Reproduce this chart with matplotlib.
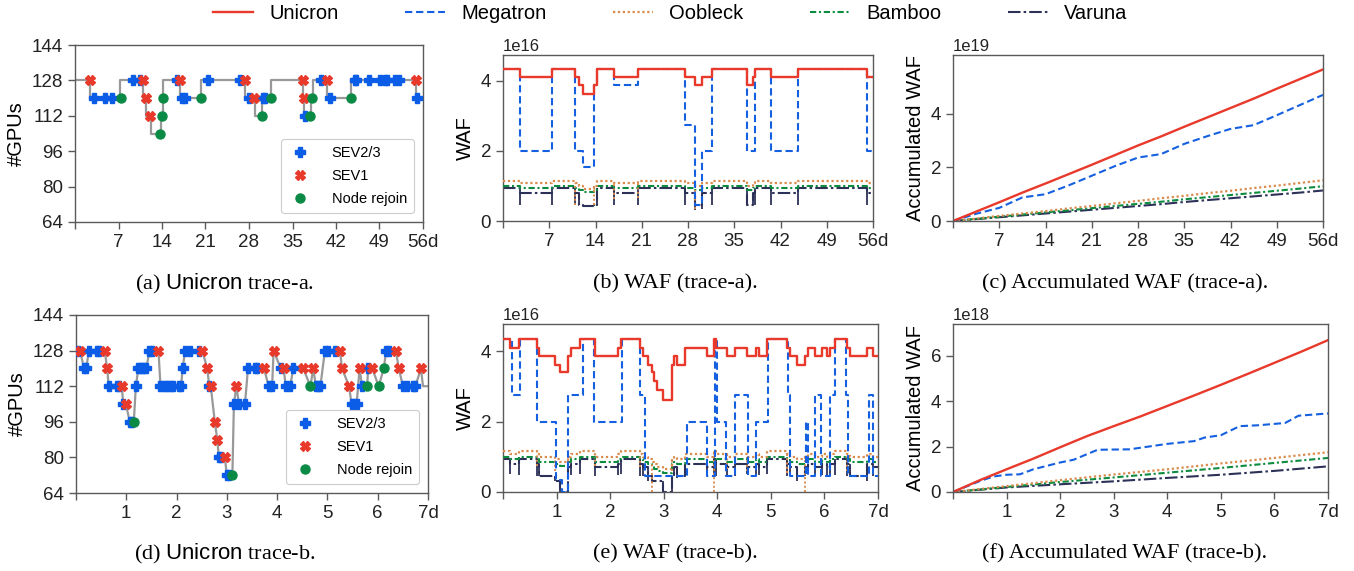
import matplotlib
matplotlib.use("Agg")
import matplotlib.pyplot as plt
import numpy as np

plt.rcParams['font.family'] = ['Liberation Sans', 'DejaVu Sans']
plt.rcParams['mathtext.fontset'] = 'custom'
plt.rcParams['mathtext.sf'] = 'Liberation Sans'

# ---------------- trace-a (56 days) ----------------
# grey GPU-count line (step, post)
a_line_t = [0, 2.41, 7.3, 10.9, 11.45, 12.2, 13.9, 14.1, 14.2, 16.95, 20.35, 27.4, 28.9,
            30.15, 31.55, 36.75, 36.9, 37.95, 38.25, 40.6, 44.45, 54.9, 56]
a_line_g = [128, 120, 128, 120, 112, 104, 112, 120, 128, 120, 128, 120, 112,
            120, 128, 120, 112, 120, 128, 120, 128, 120, 120]
a_sev23_t = [3.11, 4.88, 6.0, 9.38, 10.45, 16.45, 17.15, 17.74, 21.44, 26.63, 27.92, 30.28,
             30.65, 37.03, 39.66, 41.0, 45.0, 45.15, 47.32, 49.04, 49.95, 50.21, 51.45, 52.09, 55.04]
a_sev23_g = [120, 120, 120, 128, 128, 128, 120, 120, 128, 128, 120, 120,
             120, 112, 128, 120, 128, 128, 128, 128, 128, 128, 128, 128, 120]
a_sev1_t = [2.41, 10.88, 11.36, 12.11, 16.93, 27.33, 28.83, 36.71, 36.87, 40.57, 54.82]
a_sev1_g = [128, 128, 120, 112, 128, 128, 120, 128, 120, 128, 128]
a_rejoin_t = [7.34, 13.61, 14.04, 14.15, 20.31, 30.12, 31.51, 37.89, 38.21, 44.37]
a_rejoin_g = [120, 104, 112, 120, 120, 112, 120, 112, 120, 120]

# WAF (x1e16) for trace-a, step changes
b_t = [0, 2.62, 7.4, 10.95, 11.5, 12.1, 13.7, 14.2, 16.85, 20.5, 27.5, 29.0, 30.1, 31.6,
       37.0, 37.9, 38.2, 40.6, 44.6, 55.1]
b_unicron = [4.33, 4.10, 4.33, 4.10, 3.87, 3.62, 3.87, 4.33, 4.10, 4.33, 4.10, 3.87, 4.10, 4.33,
             3.87, 4.10, 4.33, 4.10, 4.33, 4.10]
b_megatron = [4.33, 2.00, 4.33, 2.00, 2.00, 1.55, 3.87, 4.33, 3.87, 4.33, 2.75, 0.45, 2.00, 4.33,
              2.00, 2.00, 4.33, 2.00, 4.33, 2.00]
b_oobleck = [1.15, 1.08, 1.15, 1.08, 1.00, 0.92, 1.00, 1.15, 1.08, 1.15, 1.08, 1.00, 1.08, 1.15,
             1.00, 1.08, 1.15, 1.08, 1.15, 1.08]
b_bamboo = [1.00, 0.95, 1.00, 0.95, 0.88, 0.82, 0.88, 1.00, 0.95, 1.00, 0.95, 0.88, 0.95, 1.00,
            0.88, 0.95, 1.00, 0.95, 1.00, 0.95]
b_varuna = [0.93, 0.80, 0.93, 0.80, 0.45, 0.43, 0.45, 0.93, 0.80, 0.93, 0.80, 0.45, 0.80, 0.93,
            0.45, 0.80, 0.93, 0.80, 0.93, 0.80]
b_varuna_dip = [0.45, 0.45, 0.45, 0.45, 0.43, 0.43, 0.45, 0.45, 0.45, 0.45, 0.30, 0.35, 0.45,
                0.45, 0.45, 0.45, 0.45, 0.45, 0.45]
b_oob_dip_t = [10.95, 13.7, 16.85, 20.5, 29.0]
b_oob_dip_v = [0.45, 0.45, 0.62, 0.65, 0.35]

# accumulated WAF (x1e19) trace-a
c_t = [0, 3.5, 7, 10.5, 14, 17.5, 21, 24.5, 28, 31.5, 35, 38.5, 42, 45.5, 49, 52.5, 56]
c_unicron = [0, 0.35, 0.70, 1.06, 1.40, 1.75, 2.10, 2.46, 2.82, 3.16, 3.52, 3.87, 4.22, 4.57, 4.94, 5.30, 5.66]
c_megatron = [0, 0.27, 0.49, 0.88, 1.00, 1.33, 1.69, 2.05, 2.37, 2.50, 2.88, 3.17, 3.44, 3.58, 3.95, 4.33, 4.71]
c_oobleck = [0, 0.09, 0.19, 0.28, 0.37, 0.47, 0.56, 0.66, 0.75, 0.85, 0.94, 1.04, 1.13, 1.23, 1.32, 1.42, 1.52]
c_bamboo = [0, 0.08, 0.16, 0.24, 0.32, 0.40, 0.48, 0.56, 0.64, 0.72, 0.81, 0.89, 0.97, 1.05, 1.13, 1.21, 1.30]
c_varuna = [0, 0.07, 0.14, 0.21, 0.28, 0.35, 0.42, 0.49, 0.56, 0.63, 0.71, 0.78, 0.85, 0.92, 0.99, 1.06, 1.14]

# ---------------- trace-b (7 days) ----------------
d_t = [0.03, 0.08, 0.16, 0.20, 0.26, 0.42, 0.46, 0.57, 0.62, 0.65, 0.81, 0.85, 0.91, 0.94, 0.99,
       1.07, 1.12, 1.15, 1.19, 1.24, 1.28, 1.32, 1.36, 1.40, 1.46, 1.51, 1.64, 1.68, 1.73, 1.78,
       1.83, 1.88, 1.93, 2.05, 2.09, 2.12, 2.17, 2.26, 2.44, 2.51, 2.61, 2.65, 2.68, 2.76, 2.81,
       2.84, 2.88, 2.96, 3.00, 3.05, 3.11, 3.14, 3.19, 3.24, 3.36, 3.42, 3.56, 3.60, 3.74, 3.83,
       3.90, 3.93, 4.07, 4.13, 4.17, 4.26, 4.32, 4.52, 4.66, 4.72, 4.77, 4.82, 4.86, 4.95, 5.01,
       5.15, 5.25, 5.29, 5.43, 5.48, 5.53, 5.58, 5.64, 5.69, 5.79, 5.81, 5.89, 6.02, 6.12, 6.17,
       6.23, 6.36, 6.42, 6.50, 6.58, 6.70, 6.75, 6.86, 6.90, 7.0]
d_gpu = [128, 128, 120, 120, 128, 128, 128, 128, 120, 112, 112, 112, 112, 104, 104,
         96, 96, 96, 112, 120, 120, 120, 120, 120, 128, 128, 128, 112, 112, 112,
         112, 112, 112, 112, 112, 120, 128, 128, 128, 128, 120, 112, 112, 96, 88,
         80, 80, 80, 72, 72, 72, 104, 112, 104, 104, 120, 120, 120, 120, 112,
         112, 128, 120, 120, 112, 112, 120, 120, 112, 120, 112, 112, 112, 128, 128,
         128, 128, 120, 112, 104, 104, 104, 120, 112, 112, 120, 120, 112, 120, 128,
         128, 128, 120, 112, 112, 112, 112, 120, 112, 112]
d_type = ['b', 'r', 'b', 'b', 'b', 'b', 'b', 'r', 'r', 'b', 'b', 'b', 'r', 'b', 'r',
          'b', 'b', 'g', 'b', 'b', 'b', 'b', 'b', 'b', 'b', 'b', 'r', 'b', 'b', 'b',
          'b', 'b', 'b', 'b', 'b', 'b', 'b', 'b', 'b', 'r', 'r', 'b', 'r', 'r', 'r',
          'b', 'b', 'r', 'b', 'b', 'g', 'b', 'r', 'b', 'b', 'b', 'b', 'b', 'r', 'b',
          'b', 'r', 'b', 'r', 'b', 'b', 'b', 'r', 'g', 'r', 'b', 'b', 'b', 'b', 'b',
          'b', 'r', 'r', 'r', 'b', 'b', 'b', 'r', 'b', 'g', 'b', 'r', 'g', 'g', 'b',
          'b', 'r', 'r', 'b', 'b', 'b', 'b', 'r', '', '']

# WAF (x1e16) for trace-b
e_t = [0.00, 0.13, 0.29, 0.63, 0.68, 0.97, 1.06, 1.22, 1.26, 1.44, 1.72, 2.15, 2.20, 2.56, 2.62,
       2.71, 2.78, 2.82, 2.87, 2.99, 3.15, 3.20, 3.25, 3.40, 3.80, 3.93, 3.97, 4.18, 4.33, 4.55,
       4.72, 4.77, 4.92, 5.30, 5.36, 5.48, 5.64, 5.70, 5.82, 5.95, 6.05, 6.10, 6.20, 6.42, 6.48,
       6.79, 6.90]
e_unicron = [4.33, 4.10, 4.33, 4.10, 3.87, 3.62, 3.40, 3.87, 4.10, 4.33, 3.87, 4.10, 4.33, 4.10, 3.87,
             3.62, 3.40, 3.15, 2.90, 2.60, 3.62, 3.87, 3.62, 4.10, 3.87, 4.33, 4.10, 3.87, 4.10, 3.87,
             4.10, 3.87, 4.33, 4.10, 3.87, 3.62, 3.87, 4.10, 3.87, 4.10, 3.87, 4.10, 4.33, 4.10, 3.87,
             4.10, 3.87]
e_oobleck = [1.15, 1.08, 1.15, 1.08, 1.00, 0.93, 0.86, 1.00, 1.08, 1.15, 1.00, 1.08, 1.15, 1.08, 1.00,
             0.93, 0.86, 0.80, 0.72, 0.65, 0.93, 1.00, 0.93, 1.08, 1.00, 1.15, 1.08, 1.00, 1.08, 1.00,
             1.08, 1.00, 1.15, 1.08, 1.00, 0.93, 1.00, 1.08, 1.00, 1.08, 1.00, 1.08, 1.15, 1.08, 1.00,
             1.08, 1.00]
e_bamboo = [1.00, 0.93, 1.00, 0.93, 0.86, 0.80, 0.73, 0.86, 0.93, 1.00, 0.86, 0.93, 1.00, 0.93, 0.86,
            0.80, 0.73, 0.66, 0.60, 0.54, 0.80, 0.86, 0.80, 0.93, 0.86, 1.00, 0.93, 0.86, 0.93, 0.86,
            0.93, 0.86, 1.00, 0.93, 0.86, 0.80, 0.86, 0.93, 0.86, 0.93, 0.86, 0.93, 1.00, 0.93, 0.86,
            0.93, 0.86]
e_varuna = [0.93, 0.80, 0.93, 0.80, 0.45, 0.30, 0.00, 0.70, 0.80, 0.93, 0.70, 0.80, 0.93, 0.80, 0.70,
            0.45, 0.30, 0.30, 0.30, 0.00, 0.45, 0.70, 0.45, 0.80, 0.70, 0.93, 0.80, 0.70, 0.80, 0.70,
            0.80, 0.70, 0.93, 0.80, 0.70, 0.45, 0.70, 0.80, 0.70, 0.80, 0.70, 0.80, 0.93, 0.80, 0.45,
            0.80, 0.70]
e_varuna_dip = [0.50, 0.48, 0.45, 0.45, 0.30, 0.00, 0.45, 0.48, 0.50, 0.45, 0.48, 0.50, 0.45, 0.45,
                0.30, 0.30, 0.30, 0.30, 0.00, 0.00, 0.45, 0.40, 0.45, 0.45, 0.50, 0.45, 0.48, 0.45,
                0.50, 0.45, 0.48, 0.50, 0.45, 0.48, 0.30, 0.45, 0.50, 0.45, 0.48, 0.45, 0.50, 0.48,
                0.45, 0.45, 0.30, 0.45]
e_oob_dip_t = [0.63, 0.97, 1.22, 1.72, 2.56, 2.78, 3.15, 3.93, 4.18, 4.55, 5.30, 5.64, 6.42]
e_oob_dip_v = [0.75, 0.60, 0.70, 0.75, 0.70, 0.00, 0.60, 0.00, 0.65, 0.60, 0.55, 0.00, 0.60]
e_meg_t = [0, 0.17, 0.32, 0.63, 0.98, 1.10, 1.22, 1.49, 1.70, 2.22, 2.56, 2.65, 3.43, 3.80,
           3.96, 3.99, 4.17, 4.33, 4.58, 4.73, 4.95, 5.32, 5.35, 5.66, 5.69, 5.82, 5.94, 6.10,
           6.19, 6.41, 6.44, 6.84, 6.90]
e_megatron = [4.33, 2.75, 4.33, 2.0, 0.33, 0.0, 2.75, 4.33, 2.0, 4.33, 2.75, 0.45, 2.0, 0.45, 4.33,
              2.0, 0.45, 2.75, 0.45, 2.0, 4.33, 2.75, 0.45, 2.0, 0.45, 2.75, 0.45, 2.75, 4.33, 2.75,
              0.45, 2.75, 0.45]

# accumulated WAF (x1e18) trace-b
f_t = [0, 0.5, 1, 1.5, 2, 2.5, 2.75, 3, 3.5, 4, 4.5, 5, 5.5, 6, 6.5, 7]
f_unicron = [0, 0.52, 1.0, 1.47, 1.97, 2.46, 2.68, 2.90, 3.33, 3.79, 4.25, 4.72, 5.20, 5.69, 6.18, 6.69]
f_mt = [0, 0.5, 0.75, 1.0, 1.25, 1.5, 2.0, 2.25, 2.7, 3.3, 3.5, 4.0, 4.5, 4.7, 5.0, 5.35, 5.7, 6.2, 6.45, 7.0]
f_megatron = [0, 0.48, 0.68, 0.76, 0.78, 1.0, 1.3, 1.42, 1.86, 1.88, 1.95, 2.12, 2.24, 2.4, 2.5, 2.9,
              2.94, 3.04, 3.36, 3.46]
f_ot = [0, 1, 2, 3, 4, 5, 6, 7]
f_oobleck = [0, 0.26, 0.52, 0.77, 1.0, 1.26, 1.50, 1.75]
f_bamboo = [0, 0.22, 0.44, 0.64, 0.85, 1.06, 1.28, 1.50]
f_varuna = [0, 0.20, 0.34, 0.47, 0.62, 0.76, 0.93, 1.13]

# ---------------- styling ----------------
C_UNI, C_MEG, C_OOB, C_BAM, C_VAR = '#e8392b', '#1560e0', '#d98b4e', '#0d8c3f', '#2d3157'
STY = {
    'Unicron': dict(color=C_UNI, ls='-', lw=1.7),
    'Megatron': dict(color=C_MEG, ls=(0, (3.5, 1.8)), lw=1.5),
    'Oobleck': dict(color=C_OOB, ls=(0, (1, 1.2)), lw=1.6),
    'Bamboo': dict(color=C_BAM, ls=(0, (3, 1.3, 1, 1.3)), lw=1.5),
    'Varuna': dict(color=C_VAR, ls=(0, (6, 1.5, 1.2, 1.5)), lw=1.5),
}
ORDER = ['Unicron', 'Megatron', 'Oobleck', 'Bamboo', 'Varuna']
SPINE = '#5a5a5a'
TICK_FS = 13.5
LAB_FS = 14.5


def style_ax(ax):
    for s in ax.spines.values():
        s.set_color(SPINE)
        s.set_linewidth(1.0)
    ax.tick_params(colors=SPINE, labelcolor='#222222', labelsize=TICK_FS, length=5, width=1.0)


def steps(ax, t, v, end, name, scale, z):
    tt = list(t) + [end]
    vv = np.array(list(v) + [v[-1]]) * scale
    ax.step(tt, vv, where='post', zorder=z, **STY[name])


fig = plt.figure(figsize=(13.54, 5.71), dpi=100)
W, H = 1354, 571


def add_ax(l, t, r, b):
    return fig.add_axes([l / W, 1 - b / H, (r - l) / W, (b - t) / H])


ax_a = add_ax(75, 45, 423, 222)
ax_b = add_ax(503, 55, 873, 221)
ax_c = add_ax(953, 55, 1323, 221)
ax_d = add_ax(76, 315, 428, 493)
ax_e = add_ax(503, 324, 878, 492)
ax_f = add_ax(953, 324, 1328, 492)

xt_a = [0, 7, 14, 21, 28, 35, 42, 49, 56]
xl_a = ['', '7', '14', '21', '28', '35', '42', '49', '56d']
xt_b = [0, 1, 2, 3, 4, 5, 6, 7]
xl_b = ['', '1', '2', '3', '4', '5', '6', '7d']

mk = dict(ls='none', zorder=4)
BLUE_M, RED_M, GREEN_M = '#0b5ce6', '#e8392b', '#0b8a45'

# (a)
ax_a.step(a_line_t, a_line_g, where='post', color='#999999', lw=1.6, zorder=2)
ax_a.plot(a_sev23_t, a_sev23_g, marker='P', ms=7, color=BLUE_M, label='SEV2/3', **mk)
ax_a.plot(a_sev1_t, a_sev1_g, marker='X', ms=7, color=RED_M, label='SEV1', **mk)
ax_a.plot(a_rejoin_t, a_rejoin_g, marker='o', ms=6.5, color=GREEN_M, label='Node rejoin', **mk)

# (d)
ax_d.plot(d_t, d_gpu, color='#999999', lw=1.6, zorder=2)
for code, m, c, lab in [('b', 'P', BLUE_M, 'SEV2/3'), ('r', 'X', RED_M, 'SEV1'),
                        ('g', 'o', GREEN_M, 'Node rejoin')]:
    tx = [t for t, k in zip(d_t, d_type) if k == code]
    gy = [g for g, k in zip(d_gpu, d_type) if k == code]
    ax_d.plot(tx, gy, marker=m, ms=7 if m != 'o' else 6.5, color=c, label=lab, **mk)

for ax in (ax_a, ax_d):
    ax.set_ylim(64, 144)
    ax.set_yticks([64, 80, 96, 112, 128, 144])
    ax.set_ylabel('#GPUs', fontsize=LAB_FS)
    leg = ax.legend(loc='lower right', fontsize=10.5, frameon=True, fancybox=True, framealpha=1,
                    borderpad=0.5, labelspacing=0.6, handletextpad=1.4, borderaxespad=0.6,
                    handlelength=1.6)
    leg.get_frame().set_edgecolor('#cccccc')
    leg.get_frame().set_linewidth(0.8)
    leg.set_zorder(6)

ax_a.set_xlim(0, 56)
ax_a.set_xticks(xt_a, xl_a)
ax_d.set_xlim(0, 7)
ax_d.set_xticks(xt_b, xl_b)

# (b)
S16 = 1e16
steps(ax_b, b_t, b_varuna, 56, 'Varuna', S16, 2)
ax_b.vlines(b_t[1:], np.array(b_varuna_dip) * S16,
            np.maximum(b_varuna[:-1], b_varuna[1:]) * S16, color=C_VAR, lw=1.3, zorder=2)
steps(ax_b, b_t, b_bamboo, 56, 'Bamboo', S16, 3)
steps(ax_b, b_t, b_oobleck, 56, 'Oobleck', S16, 3)
ax_b.vlines(b_oob_dip_t, np.array(b_oob_dip_v) * S16,
            np.interp(b_oob_dip_t, b_t, b_oobleck) * S16, color=C_OOB, lw=1.4,
            linestyles=(0, (1, 1.2)), zorder=3)
steps(ax_b, b_t, b_megatron, 56, 'Megatron', S16, 4)
steps(ax_b, b_t, b_unicron, 56, 'Unicron', S16, 5)
ax_b.set_xlim(0, 56)
ax_b.set_ylim(0, 4.74e16)
ax_b.set_yticks([0, 2e16, 4e16])
ax_b.set_xticks(xt_a, xl_a)
ax_b.set_ylabel('WAF', fontsize=LAB_FS)

# (e)
steps(ax_e, e_t, e_varuna, 7, 'Varuna', S16, 2)
ax_e.vlines(e_t[1:], np.array(e_varuna_dip) * S16,
            np.maximum(e_varuna[:-1], e_varuna[1:]) * S16, color=C_VAR, lw=1.3, zorder=2)
steps(ax_e, e_t, e_bamboo, 7, 'Bamboo', S16, 3)
steps(ax_e, e_t, e_oobleck, 7, 'Oobleck', S16, 3)
ax_e.vlines(e_oob_dip_t, np.array(e_oob_dip_v) * S16,
            np.interp(e_oob_dip_t, e_t, e_oobleck) * S16, color=C_OOB, lw=1.4,
            linestyles=(0, (1, 1.2)), zorder=3)
steps(ax_e, e_meg_t, e_megatron, 7, 'Megatron', S16, 4)
steps(ax_e, e_t, e_unicron, 7, 'Unicron', S16, 5)
ax_e.set_xlim(0, 7)
ax_e.set_ylim(0, 4.77e16)
ax_e.set_yticks([0, 2e16, 4e16])
ax_e.set_xticks(xt_b, xl_b)
ax_e.set_ylabel('WAF', fontsize=LAB_FS)

# (c)
S19 = 1e19
handles = {}
for name, vals in [('Varuna', c_varuna), ('Bamboo', c_bamboo), ('Oobleck', c_oobleck),
                   ('Megatron', c_megatron), ('Unicron', c_unicron)]:
    handles[name], = ax_c.plot(c_t, np.array(vals) * S19, **STY[name])
ax_c.set_xlim(0, 56)
ax_c.set_ylim(0, 6.2e19)
ax_c.set_yticks([0, 2e19, 4e19])
ax_c.set_xticks(xt_a, xl_a)
ax_c.set_ylabel('Accumulated WAF', fontsize=LAB_FS)

# (f)
S18 = 1e18
ax_f.plot(f_ot, np.array(f_varuna) * S18, **STY['Varuna'])
ax_f.plot(f_ot, np.array(f_bamboo) * S18, **STY['Bamboo'])
ax_f.plot(f_ot, np.array(f_oobleck) * S18, **STY['Oobleck'])
ax_f.plot(f_mt, np.array(f_megatron) * S18, **STY['Megatron'])
ax_f.plot(f_t, np.array(f_unicron) * S18, **STY['Unicron'])
ax_f.set_xlim(0, 7)
ax_f.set_ylim(0, 7.4e18)
ax_f.set_yticks([0, 2e18, 4e18, 6e18])
ax_f.set_xticks(xt_b, xl_b)
ax_f.set_ylabel('Accumulated WAF', fontsize=LAB_FS)

for ax in (ax_a, ax_b, ax_c, ax_d, ax_e, ax_f):
    style_ax(ax)
for ax in (ax_b, ax_c, ax_e, ax_f):
    ax.yaxis.get_offset_text().set_fontsize(12)
    ax.yaxis.get_offset_text().set_color('#222222')

fig.legend([handles[n] for n in ORDER], ORDER, loc='upper center', bbox_to_anchor=(0.495, 1.025),
           ncol=5, frameon=False, fontsize=14.5, handlelength=2.0, handletextpad=0.8,
           columnspacing=3.3)

caps1 = [r'(a) $\mathsf{Unicron}$ trace-a.', '(b) WAF (trace-a).', '(c) Accumulated WAF (trace-a).']
caps2 = [r'(d) $\mathsf{Unicron}$ trace-b.', '(e) WAF (trace-b).', '(f) Accumulated WAF (trace-b).']
for i, (c1, c2) in enumerate(zip(caps1, caps2)):
    x = (225 + 450 * i) / W
    fig.text(x, 1 - 284 / H, c1, ha='center', va='center', fontsize=16, family='Liberation Serif')
    fig.text(x, 1 - 554 / H, c2, ha='center', va='center', fontsize=16, family='Liberation Serif')

fig.savefig('out.png', dpi=100)
